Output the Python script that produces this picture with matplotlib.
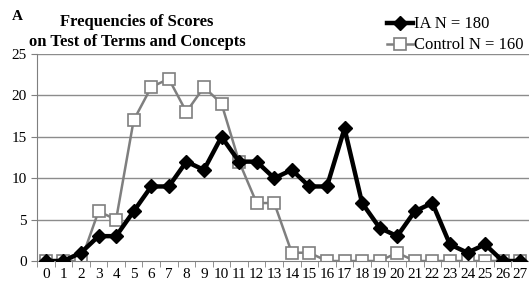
import matplotlib
matplotlib.use("Agg")
import matplotlib.pyplot as plt
import numpy as np

# Data
scores = list(range(28))
ia = [0, 0, 1, 3, 3, 6, 9, 9, 12, 11, 15, 12, 12, 10, 11, 9, 9, 16, 7, 4, 3, 6, 7, 2, 1, 2, 0, 0]
control = [0, 0, 0, 6, 5, 17, 21, 22, 18, 21, 19, 12, 7, 7, 1, 1, 0, 0, 0, 0, 1, 0, 0, 0, 0, 0, 0, 0]

plt.rcParams['font.family'] = 'Liberation Serif'
grey = '#7f7f7f'

fig = plt.figure(figsize=(5.29, 2.84), dpi=100)
ax = fig.add_axes([0.070, 0.081, 0.93, 0.729])

# Grid lines
for y in [5, 10, 15, 20, 25]:
    ax.axhline(y, color='#8c8c8c', lw=1.0, zorder=0)

ax.plot(scores, control, color=grey, lw=1.8, marker='s', ms=8,
        mfc='white', mec=grey, mew=1.2, label='Control N = 160', zorder=2)
ax.plot(scores, ia, color='black', lw=3.2, marker='D', ms=7.5,
        mfc='black', mec='black', label='IA N = 180', zorder=3)

ax.set_xlim(-0.5, 27.5)
ax.set_ylim(0, 25)
ax.set_xticks(scores)
ax.set_xticks(np.arange(-0.5, 28, 1), minor=True)
ax.set_yticks([0, 5, 10, 15, 20, 25])
ax.tick_params(axis='x', which='major', length=0, labelsize=11, pad=5)
ax.tick_params(axis='x', which='minor', length=4, color=grey)
ax.tick_params(axis='y', length=4, color=grey, labelsize=11)

for s in ['top', 'right']:
    ax.spines[s].set_visible(False)
ax.spines['left'].set_color(grey)
ax.spines['bottom'].set_color(grey)

# Legend (IA first)
h, l = ax.get_legend_handles_labels()
fig.legend(h[::-1], l[::-1], loc='upper right', bbox_to_anchor=(1.018, 0.995),
           frameon=False, fontsize=12, handlelength=1.6, handletextpad=0.05,
           labelspacing=0.3)

fig.text(0.259, 0.95, 'Frequencies of Scores\non Test of Terms and Concepts',
         ha='center', va='top', fontsize=12, fontweight='bold', linespacing=1.3)
fig.text(0.022, 0.965, 'A', ha='left', va='top', fontsize=11, fontweight='bold')

fig.savefig('out.png', dpi=100)
